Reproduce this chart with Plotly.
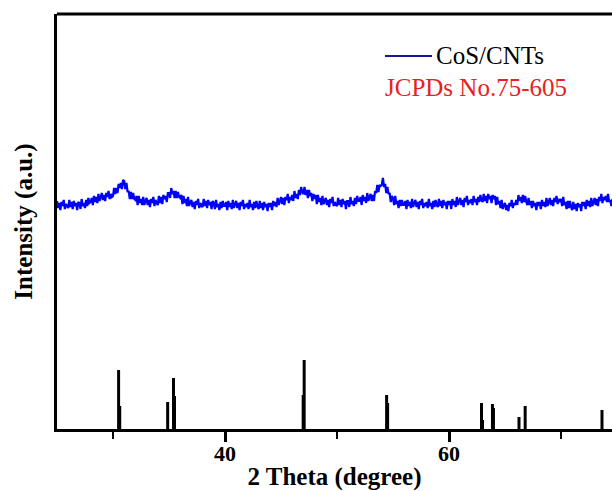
import numpy as np
import plotly.graph_objects as go

# ---- data ----
theta_start = 25.0
theta_step = 0.1
intensity = [
    228, 221, 226, 219, 227, 223, 229, 220, 225, 222,  # 25
    221, 229, 222, 227, 220, 228, 223, 226, 219, 227,  # 26
    226, 220, 230, 223, 226, 221, 229, 223, 231, 226,  # 27
    227, 231, 224, 233, 227, 232, 226, 235, 228, 232,  # 28
    236, 229, 234, 228, 236, 232, 238, 230, 235, 232,  # 29
    233, 241, 235, 241, 236, 245, 241, 246, 240, 249,  # 30
    248, 240, 246, 237, 238, 230, 237, 230, 236, 230,  # 31
    229, 233, 224, 233, 226, 230, 224, 232, 224, 228,  # 32
    231, 224, 229, 222, 230, 226, 232, 223, 229, 226,  # 33
    224, 233, 226, 232, 225, 234, 230, 233, 227, 236,  # 34
    236, 231, 241, 235, 238, 231, 238, 231, 237, 232,  # 35
    231, 234, 225, 233, 226, 230, 223, 232, 223, 227,  # 36
    229, 222, 227, 220, 228, 224, 230, 221, 226, 223,  # 37
    222, 230, 223, 228, 221, 229, 224, 227, 220, 228,  # 38
    226, 220, 229, 222, 225, 219, 227, 221, 228, 223,  # 39
    223, 227, 219, 228, 222, 226, 220, 229, 221, 225,  # 40
    228, 221, 226, 219, 227, 223, 229, 220, 225, 222,  # 41
    226, 220, 229, 222, 225, 219, 227, 221, 228, 223,  # 42
    220, 228, 221, 226, 219, 227, 222, 225, 218, 226,  # 43
    222, 226, 219, 228, 223, 227, 222, 231, 224, 228,  # 44
    232, 225, 231, 224, 232, 229, 235, 226, 232, 229,  # 45
    234, 228, 238, 231, 235, 230, 239, 234, 242, 237,  # 46
    235, 242, 234, 239, 231, 239, 233, 236, 228, 235,  # 47
    230, 234, 225, 234, 227, 231, 224, 233, 225, 228,  # 48
    231, 224, 229, 222, 230, 226, 232, 223, 227, 224,  # 49
    223, 231, 224, 229, 222, 230, 225, 228, 220, 228,  # 50
    228, 222, 232, 225, 228, 223, 231, 225, 233, 228,  # 51
    228, 232, 224, 234, 228, 232, 226, 236, 228, 232,  # 52
    235, 228, 234, 228, 238, 236, 244, 237, 244, 243,  # 53
    244, 251, 242, 245, 236, 242, 235, 236, 227, 233,  # 54
    231, 224, 233, 225, 228, 221, 229, 223, 229, 224,  # 55
    224, 228, 220, 229, 223, 227, 221, 230, 222, 226,  # 56
    229, 222, 227, 220, 228, 224, 230, 221, 226, 223,  # 57
    227, 221, 230, 223, 226, 220, 228, 222, 229, 224,  # 58
    222, 230, 223, 228, 221, 229, 224, 227, 220, 228,  # 59
    224, 228, 220, 230, 224, 228, 222, 232, 224, 228,  # 60
    231, 224, 229, 222, 231, 227, 233, 224, 229, 226,  # 61
    230, 224, 233, 227, 230, 224, 232, 227, 234, 229,  # 62
    227, 235, 228, 233, 226, 235, 230, 233, 226, 234,  # 63
    230, 233, 224, 232, 225, 228, 221, 229, 220, 224,  # 64
    226, 219, 224, 218, 226, 223, 229, 221, 226, 224,  # 65
    229, 224, 234, 228, 232, 226, 234, 227, 233, 227,  # 66
    224, 231, 224, 228, 221, 228, 223, 226, 219, 227,  # 67
    223, 227, 220, 229, 223, 227, 222, 231, 223, 227,  # 68
    231, 224, 229, 223, 231, 227, 233, 225, 230, 227,  # 69
    230, 223, 232, 224, 227, 220, 228, 221, 228, 222,  # 70
    219, 227, 220, 225, 218, 226, 222, 225, 218, 227,  # 71
    223, 227, 220, 229, 223, 228, 222, 231, 223, 227,  # 72
    231, 224, 230, 223, 232, 228, 235, 226, 232, 229,  # 73
    233, 227, 235, 227, 229, 223, 230,                 # 74
]
theta = np.round(theta_start + theta_step * np.arange(len(intensity)), 2)

ref_angles = [30.50, 30.60, 34.88, 35.40, 35.49, 46.98, 47.07, 54.43, 54.52,
              62.90, 62.99, 63.88, 63.97, 66.25, 66.80, 73.66]
ref_heights = [59, 23, 27, 51, 33, 34, 69, 34, 26,
               26, 9, 25, 21, 12, 23, 19]

x_ticks = [40, 60]
x_minor_ticks = [30, 50, 70]
sample_label = "CoS/CNTs"
ref_label = "JCPDs No.75-605"

# ---- build stick segments ----
sx, sy = [], []
for a, h in zip(ref_angles, ref_heights):
    sx += [a, a, None]
    sy += [0, h, None]

fig = go.Figure()
fig.add_trace(go.Scatter(x=theta, y=intensity, mode="lines",
                         line=dict(color="#0000ff", width=2.2),
                         name=sample_label, showlegend=False))
fig.add_trace(go.Scatter(x=sx, y=sy, mode="lines",
                         line=dict(color="black", width=3),
                         name=ref_label, showlegend=False))

W, H = 612, 491
L, R, T, B = 57, 0, 14, 62
pw, ph = W - L - R, H - T - B

def px(xp):
    return (xp - L) / pw

def py(yp):
    return (H - B - yp) / ph

serif = "Liberation Serif"

fig.update_layout(
    width=W, height=H,
    margin=dict(l=L, r=R, t=T, b=B, autoexpand=False),
    paper_bgcolor="white", plot_bgcolor="white",
    font=dict(family=serif, color="black"),
    xaxis=dict(
        range=[25, 25 + pw / 11.2],
        automargin=False,
        tickmode="array", tickvals=x_ticks,
        ticks="outside", ticklen=10, tickwidth=3, tickcolor="black",
        minor=dict(tickmode="array", tickvals=x_minor_ticks, ticks="outside",
                   ticklen=7, tickwidth=2, tickcolor="black"),
        showline=True, linewidth=3, linecolor="black",
        showgrid=False, zeroline=False,
        ticklabelstandoff=-7,
        tickfont=dict(family=serif, size=22, weight="bold"),
        title=dict(text="2 Theta (degree)",
                   font=dict(family=serif, size=25, weight="bold"),
                   standoff=4),
    ),
    yaxis=dict(
        range=[0, ph],
        automargin=False,
        showticklabels=False, ticks="",
        showline=True, linewidth=3, linecolor="black",
        showgrid=False, zeroline=False,
        title=dict(text="Intensity (a.u.)",
                   font=dict(family=serif, size=25, weight="bold"),
                   standoff=15),
    ),
    shapes=[
        dict(type="line", xref="paper", yref="paper", x0=0, x1=1, y0=1, y1=1,
             line=dict(color="black", width=3)),
        dict(type="line", xref="paper", yref="paper",
             x0=px(385), x1=px(432), y0=py(56), y1=py(56),
             line=dict(color="#1515a0", width=2)),
    ],
    annotations=[
        dict(text=sample_label, xref="paper", yref="paper",
             x=px(434), y=py(55), xanchor="left", yanchor="middle",
             showarrow=False, font=dict(family=serif, size=25, color="black")),
        dict(text=ref_label, xref="paper", yref="paper",
             x=px(383), y=py(87), xanchor="left", yanchor="middle",
             showarrow=False, font=dict(family=serif, size=25, color="#e8201e")),
    ],
)

fig.write_html("out.html")
